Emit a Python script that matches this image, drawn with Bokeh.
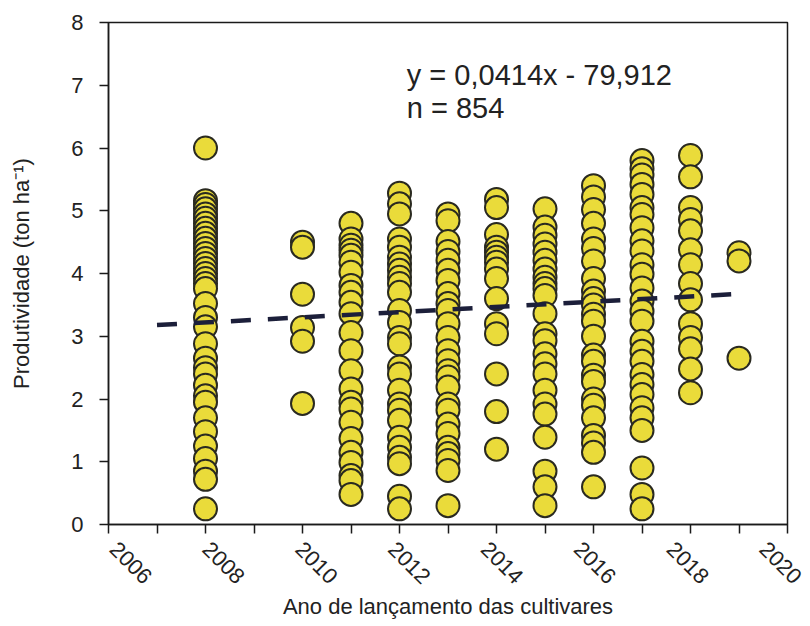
from bokeh.plotting import figure
from bokeh.models import FixedTicker, Label, Range1d, ColumnDataSource, LinearAxis
from bokeh.embed import file_html
from bokeh.resources import INLINE
import math

# ---- data ----
years = [2008, 2010, 2011, 2012, 2013, 2014, 2015, 2016, 2017, 2018, 2019]

prod_2008 = [6.00, 5.16, 5.10, 5.03, 4.95, 4.88, 4.80, 4.72, 4.64, 4.56, 4.48, 4.40,
             4.32, 4.24, 4.16, 4.08, 4.00, 3.92, 3.84, 3.76, 3.52, 3.30, 3.15, 2.88,
             2.65, 2.50, 2.40, 2.22, 2.05, 1.95, 1.70, 1.48, 1.25, 1.05, 0.85, 0.72, 0.25]
prod_2010 = [4.50, 4.42, 3.67, 3.14, 2.92, 1.93]
prod_2011 = [4.80, 4.55, 4.45, 4.37, 4.29, 4.18, 4.02, 3.81, 3.70, 3.54, 3.36, 3.06,
             2.77, 2.45, 2.16, 1.95, 1.84, 1.63, 1.37, 1.15, 0.99, 0.78, 0.70, 0.48]
prod_2012 = [5.28, 5.11, 4.95, 4.55, 4.42, 4.26, 4.15, 4.05, 3.94, 3.84, 3.70, 3.41,
             3.22, 2.98, 2.88, 2.51, 2.40, 2.14, 1.92, 1.82, 1.66, 1.39, 1.23, 1.07,
             0.97, 0.45, 0.25]
prod_2013 = [4.95, 4.84, 4.51, 4.35, 4.21, 4.05, 3.89, 3.68, 3.52, 3.41, 3.20, 2.98,
             2.77, 2.61, 2.45, 2.35, 2.19, 1.92, 1.82, 1.60, 1.45, 1.23, 1.13, 1.02,
             0.86, 0.30]
prod_2014 = [5.18, 5.05, 4.62, 4.42, 4.34, 4.26, 4.18, 4.07, 3.92, 3.60, 3.20, 3.04,
             2.40, 1.80, 1.20]
prod_2015 = [5.03, 4.74, 4.61, 4.47, 4.34, 4.21, 4.07, 3.94, 3.84, 3.76, 3.65, 3.36,
             3.04, 2.93, 2.72, 2.56, 2.40, 2.14, 1.92, 1.76, 1.39, 0.85, 0.60, 0.30]
prod_2016 = [5.40, 5.22, 5.02, 4.80, 4.55, 4.40, 4.20, 3.92, 3.72, 3.60, 3.50, 3.35,
             3.24, 3.00, 2.70, 2.60, 2.38, 2.28, 2.00, 1.90, 1.70, 1.42, 1.30, 1.15, 0.60]
prod_2017 = [5.80, 5.67, 5.57, 5.42, 5.26, 5.05, 4.94, 4.73, 4.52, 4.36, 4.14, 3.99,
             3.77, 3.56, 3.40, 3.24, 2.92, 2.76, 2.60, 2.39, 2.23, 2.07, 1.86, 1.70,
             1.50, 0.90, 0.48, 0.25]
prod_2018 = [5.88, 5.54, 5.05, 4.86, 4.68, 4.38, 4.14, 3.84, 3.58, 3.20, 2.98, 2.80,
             2.48, 2.10]
prod_2019 = [4.33, 4.20, 2.65]

slope = 0.0414
intercept = -79.912
fit_years = [2007, 2019]

x_ticks = [2006, 2008, 2010, 2012, 2014, 2016, 2018, 2020]
x_minor = [2007, 2009, 2011, 2013, 2015, 2017, 2019]
y_ticks = [0, 1, 2, 3, 4, 5, 6, 7, 8]

equation_text = "y = 0,0414x - 79,912\nn = 854"
x_title = "Ano de lançamento das cultivares"
y_title = "Produtividade (ton ha\u207b\u00b9)"

# ---- build sources ----
all_series = [prod_2008, prod_2010, prod_2011, prod_2012, prod_2013, prod_2014,
              prod_2015, prod_2016, prod_2017, prod_2018, prod_2019]
xs, ys = [], []
for yr, vals in zip(years, all_series):
    for v in vals:
        xs.append(yr)
        ys.append(v)
src = ColumnDataSource(dict(x=xs, y=ys))
fit_y = [slope * x + intercept for x in fit_years]

FONT = "Liberation Sans"
TXT = "#222222"

p = figure(width=810, height=626, output_backend="svg", toolbar_location=None,
           x_range=Range1d(2006, 2020), y_range=Range1d(0, 8),
           min_border_left=108, min_border_right=23, min_border_top=22,
           min_border_bottom=102, background_fill_color="white",
           border_fill_color="white")
# slightly wider range for the rotated year labels, so they sit under the
# ticks the way the original's do (and "2020" stays inside the page)
p.extra_x_ranges = {"labels": Range1d(2005.89, 2020.52)}

p.grid.visible = False
p.outline_line_color = "#1a1a1a"
p.outline_line_width = 1.5

p.scatter(x="x", y="y", source=src, size=23, fill_color="#EADB3A",
          line_color="#2a2a20", line_width=2)
p.line(fit_years, fit_y, line_color="#1c1f3a", line_width=4.5, line_dash="20 17")

# main x axis: ticks only
xa = p.xaxis[0]
xa.ticker = FixedTicker(ticks=x_ticks, minor_ticks=x_minor)
xa.major_tick_out = 9
xa.major_tick_in = 0
xa.minor_tick_out = 9
xa.minor_tick_in = 0
xa.minor_tick_line_color = "#1a1a1a"
xa.major_label_overrides = {t: "" for t in x_ticks}
xa.major_label_text_font_size = "0px"
xa.major_label_standoff = 0
xa.axis_line_color = "#1a1a1a"
xa.axis_line_width = 1.5
xa.major_tick_line_color = "#1a1a1a"
xa.major_tick_line_width = 1.5
xa.minor_tick_line_width = 1.5

# label axis: rotated year labels + title
la = LinearAxis(x_range_name="labels", ticker=FixedTicker(ticks=x_ticks))
la.axis_line_color = None
la.major_tick_line_color = None
la.minor_tick_line_color = None
la.major_tick_out = 0
la.major_tick_in = 0
la.major_label_orientation = -math.pi / 4
la.major_label_standoff = 12
la.major_label_text_font = FONT
la.major_label_text_font_size = "22px"
la.major_label_text_color = TXT
la.axis_label = x_title
la.axis_label_standoff = 0
la.axis_label_text_font = FONT
la.axis_label_text_font_size = "22px"
la.axis_label_text_font_style = "normal"
la.axis_label_text_color = TXT
p.add_layout(la, "below")

ya = p.yaxis[0]
ya.ticker = FixedTicker(ticks=y_ticks)
ya.major_tick_out = 9
ya.major_tick_in = 0
ya.minor_tick_line_color = None
ya.major_label_standoff = 16
ya.axis_line_color = "#1a1a1a"
ya.axis_line_width = 1.5
ya.major_tick_line_color = "#1a1a1a"
ya.major_tick_line_width = 1.5
ya.major_label_text_font = FONT
ya.major_label_text_font_size = "22px"
ya.major_label_text_color = TXT
ya.axis_label = y_title
ya.axis_label_standoff = 34
ya.axis_label_text_font = FONT
ya.axis_label_text_font_size = "22px"
ya.axis_label_text_font_style = "normal"
ya.axis_label_text_color = TXT

eq = Label(x=2012.15, y=7.42, text=equation_text, text_font=FONT,
           text_font_size="29px", text_color=TXT, text_baseline="top",
           text_align="left", text_line_height=1.03)
p.add_layout(eq)

open("out.html", "w").write(file_html(p, INLINE))
